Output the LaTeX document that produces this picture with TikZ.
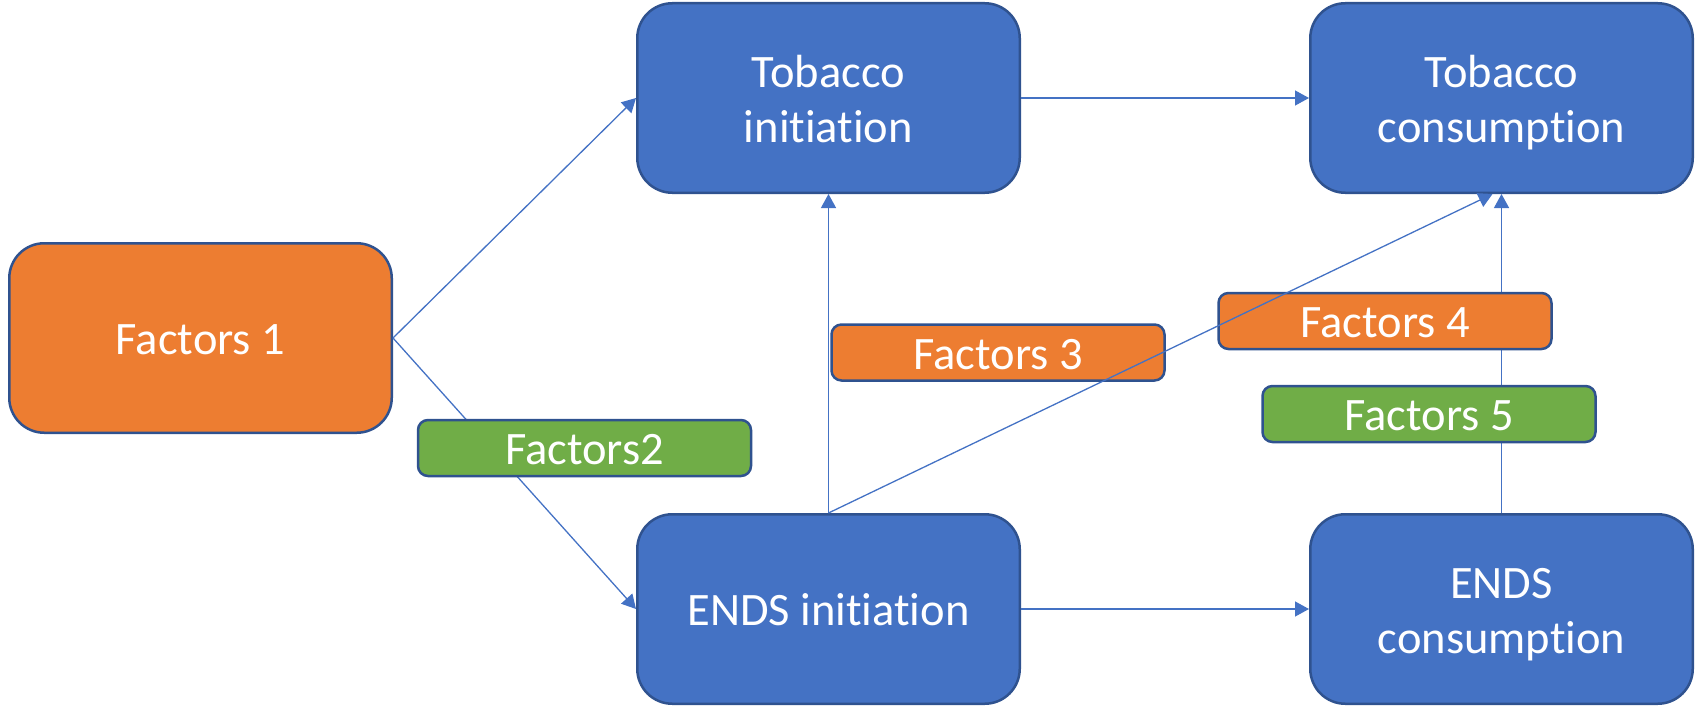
\documentclass[tikz,border=0pt]{standalone}
\usepackage{fontspec}
\setmainfont{Carlito}[RawFeature={-liga;-clig;-dlig}]
\usetikzlibrary{arrows.meta,calc}
\definecolor{pblue}{HTML}{4472C4}
\definecolor{porange}{HTML}{ED7D31}
\definecolor{pgreen}{HTML}{70AD47}
\definecolor{pedge}{HTML}{2F528F}
\newcommand{\sst}{\rule[-9pt]{0pt}{51pt}}
\begin{document}
\begin{tikzpicture}[x=1pt,y=-1pt,
  box/.style={draw=pedge, line width=2.5pt, text=white, font=\fontsize{46.5}{55}\selectfont, align=center, inner sep=0pt},
  bigbox/.style={box, rounded corners=35pt, minimum width=382.5pt, minimum height=189.5pt},
  factorbox/.style={box, rounded corners=10pt, minimum width=333pt, minimum height=56pt},
  conn/.style={draw=pblue, line width=1.3pt, -{Triangle[length=14pt,width=15pt]}}]
\useasboundingbox (0,0) rectangle (1696,709);
% main boxes
\node[bigbox, fill=porange] (f1) at (200.5,338) {\sst Factors 1};
\node[bigbox, fill=pblue] (ti) at (828.5,98) {\sst Tobacco\\\sst initiation};
\node[bigbox, fill=pblue] (tc) at (1501.5,98) {\sst Tobacco\\\sst consumption};
\node[bigbox, fill=pblue] (ei) at (828.5,609) {\sst ENDS initiation};
\node[bigbox, fill=pblue] (ec) at (1501.5,609) {\sst ENDS\\\sst consumption};
% connectors below the factor boxes
\draw[conn] (f1.east) -- (ti.west);
\draw[conn] (f1.east) -- (ei.west);
\draw[conn] (ti.east) -- (tc.west);
\draw[conn] (ei.east) -- (ec.west);
\draw[conn] (ei.north) -- (ti.south);
\draw[conn] (ec.north) -- (tc.south);
% factor boxes
\node[factorbox, fill=pgreen] (f2) at (584.5,448) {\sst Factors2};
\node[factorbox, fill=porange] (f3) at (998,352.5) {\sst Factors 3};
\node[factorbox, fill=porange] (f4) at (1385,321) {\sst Factors 4};
\node[factorbox, fill=pgreen] (f5) at (1429,414) {\sst Factors 5};
% diagonal drawn over the factor boxes
\coordinate (tcin) at ($(tc.south)+(-9,0)$);
\draw[conn] (ei.north) -- (tcin);
\end{tikzpicture}
\end{document}
